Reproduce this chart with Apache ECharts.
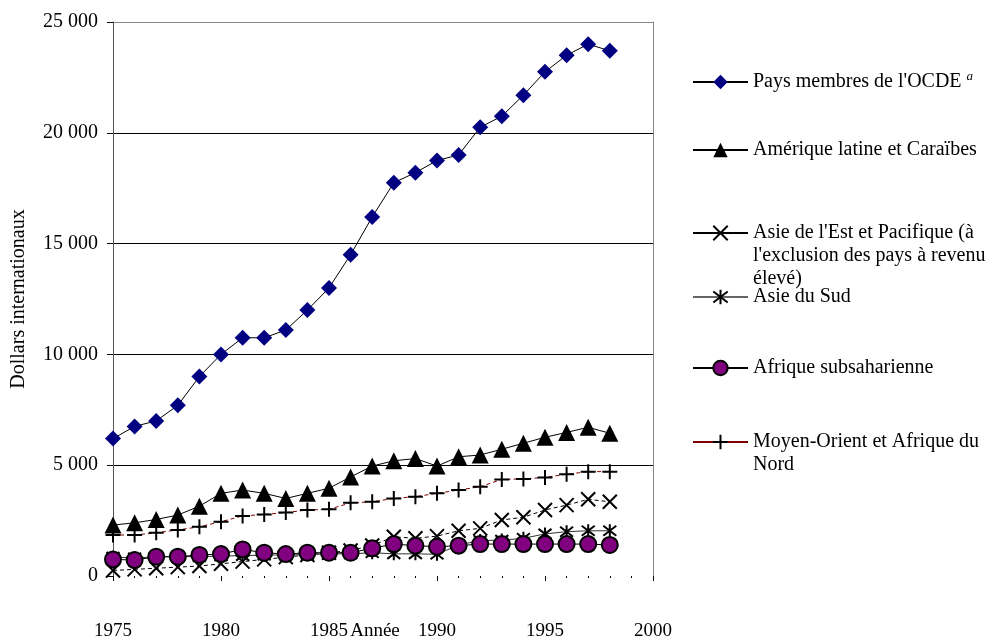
<!DOCTYPE html>
<html>
<head>
<meta charset="utf-8">
<script src="https://cdn.jsdelivr.net/npm/echarts@6/dist/echarts.min.js"></script>
<style>
html,body{margin:0;padding:0;background:#fff;}
#chart{width:1000px;height:641px;}
</style>
</head>
<body>
<div id="chart"></div>
<script>
var years = [1975,1976,1977,1978,1979,1980,1981,1982,1983,1984,1985,1986,1987,1988,1989,1990,1991,1992,1993,1994,1995,1996,1997,1998];
var oecd = [6200,6750,7000,7700,9000,10000,10750,10750,11100,12000,13000,14500,16200,17750,18200,18750,19000,20250,20750,21700,22750,23500,24000,23700];
var latinAmerica = [2300,2400,2550,2750,3150,3730,3880,3730,3500,3730,3960,4470,4960,5200,5300,4960,5380,5460,5720,5990,6260,6480,6710,6440];
var eastAsia = [250,300,350,400,450,550,650,750,850,950,1050,1150,1380,1770,1700,1800,2040,2150,2530,2650,2980,3200,3460,3350];
var southAsia = [850,820,860,880,870,900,920,940,950,970,1000,1000,1050,1000,1000,980,1400,1600,1620,1700,1900,2000,2040,2040];
var subSaharan = [750,720,870,870,950,990,1200,1050,990,1050,1050,1050,1250,1440,1370,1320,1370,1440,1440,1440,1440,1440,1440,1400];
var mena = [1850,1850,1950,2080,2220,2450,2710,2780,2860,2980,3010,3300,3350,3500,3580,3730,3880,4030,4360,4380,4450,4590,4710,4710];
var yTicks = [0,5000,10000,15000,20000,25000];
var xTicks = [1975,1980,1985,1990,1995,2000];

var names = {
  oecd: "Pays membres de l'OCDE",
  latin: "Amérique latine et Caraïbes",
  east: "Asie de l'Est et Pacifique (à l'exclusion des pays à revenu élevé)",
  south: "Asie du Sud",
  africa: "Afrique subsaharienne",
  mena: "Moyen-Orient et Afrique du Nord"
};
var legendText = {};
legendText[names.oecd] = "Pays membres de l'OCDE {sup|a}";
legendText[names.latin] = "Amérique latine et Caraïbes";
legendText[names.east] = "\n\nAsie de l'Est et Pacifique (à\nl'exclusion des pays à revenu\nélevé)";
legendText[names.south] = "Asie du Sud";
legendText[names.africa] = "Afrique subsaharienne";
legendText[names.mena] = "\nMoyen-Orient et Afrique du\nNord";

function pairs(arr){ return years.map(function(y,i){ return [y, arr[i]]; }); }

var FONT = 'Liberation Serif';
var crossPath = 'path://M0,0L10,10M10,0L0,10';
var starPath = 'path://M0,0L10,10M10,0L0,10M5,-1.5L5,11.5';
var plusPath = 'path://M5,0L5,10M0,5L10,5';

function legendFor(name, top, extra){
  var l = {
    data: [name],
    left: 692,
    top: top,
    padding: 0,
    itemWidth: 55,
    itemHeight: 18,
    itemGap: 5,
    selectedMode: false,
    formatter: function(n){ return legendText[n]; },
    textStyle: {
      fontFamily: FONT, fontSize: 20, color: '#000', lineHeight: 23,
      rich: { sup: { fontFamily: FONT, fontStyle: 'italic', fontSize: 13, lineHeight: 23, verticalAlign: 'top', padding: [0,0,10,0], color:'#000' } }
    }
  };
  if (extra) { for (var k in extra) l[k] = extra[k]; }
  return l;
}

var chart = echarts.init(document.getElementById('chart'), null, {renderer: 'canvas'});
chart.setOption({
  animation: false,
  backgroundColor: '#fff',
  grid: { left: 113, right: 347, top: 22, bottom: 65, containLabel: false, outerBoundsMode: 'none' },
  legend: [
    legendFor(names.oecd, 70.5),
    legendFor(names.latin, 138.5),
    legendFor(names.east, 175.5, { lineStyle: { type: 'solid', color: '#000' } }),
    legendFor(names.south, 285.5, { lineStyle: { type: 'solid', color: '#666' } }),
    legendFor(names.africa, 356.5),
    legendFor(names.mena, 407.5, { lineStyle: { type: 'solid', color: '#800000' } })
  ],
  xAxis: {
    type: 'value', min: xTicks[0], max: xTicks[xTicks.length-1], interval: 5,
    axisLine: { show: false },
    axisTick: { show: true, length: 5, lineStyle: { color: '#000' } },
    minorTick: { show: true, splitNumber: 5, length: 2, lineStyle: { color: '#000' } },
    splitLine: { show: false },
    axisLabel: { margin: 46, fontFamily: FONT, fontSize: 19, color: '#000',
      formatter: function(v){ return String(v); } },
    name: 'Année', nameLocation: 'middle', nameGap: 46, nameMoveOverlap: false,
    nameTextStyle: { fontFamily: FONT, fontSize: 19, color: '#000', padding: [0,16,0,0] }
  },
  yAxis: [{
    type: 'value', min: yTicks[0], max: yTicks[yTicks.length-1], interval: 5000,
    axisLine: { show: true, lineStyle: { color: '#555', width: 1 } },
    axisTick: { show: true, length: 6, lineStyle: { color: '#000' } },
    axisLabel: { margin: 15, fontFamily: FONT, fontSize: 20, color: '#000',
      formatter: function(v){ return String(v).replace(/\B(?=(\d{3})+(?!\d))/g, ' '); } },
    splitLine: { show: true, lineStyle: { color: ['#fff','#000','#000','#000','#000','#888'], width: 1 } },
    name: 'Dollars internationaux', nameLocation: 'middle', nameGap: 84, nameMoveOverlap: false,
    nameTextStyle: { fontFamily: FONT, fontSize: 20, color: '#000' }
  }, {
    type: 'value', position: 'right', min: yTicks[0], max: yTicks[yTicks.length-1], interval: 5000,
    axisLine: { show: true, lineStyle: { color: '#888', width: 1 } },
    axisTick: { show: false }, axisLabel: { show: false }, splitLine: { show: false }
  }],
  series: [
    { name: names.oecd, type: 'line', data: pairs(oecd), symbol: 'diamond', symbolSize: 16,
      lineStyle: { color: '#000', width: 1 }, itemStyle: { color: '#000080', borderColor: '#000080', borderWidth: 0 } },
    { name: names.latin, type: 'line', data: pairs(latinAmerica), symbol: 'triangle', symbolSize: 17,
      lineStyle: { color: '#000', width: 1 }, itemStyle: { color: '#000', borderWidth: 0 } },
    { name: names.east, type: 'line', data: pairs(eastAsia), symbol: crossPath, symbolSize: 14,
      lineStyle: { color: '#000', width: 1, type: [4,3] }, itemStyle: { color: '#000', borderColor: '#000', borderWidth: 2 } },
    { name: names.south, type: 'line', data: pairs(southAsia), symbol: starPath, symbolSize: 13,
      lineStyle: { color: '#333', width: 1 }, itemStyle: { color: '#000', borderColor: '#000', borderWidth: 2 } },
    { name: names.africa, type: 'line', data: pairs(subSaharan), symbol: 'circle', symbolSize: 16,
      lineStyle: { color: '#000', width: 1 }, itemStyle: { color: '#800080', borderColor: '#000', borderWidth: 2 } },
    { name: names.mena, type: 'line', data: pairs(mena), symbol: plusPath, symbolSize: 15,
      lineStyle: { color: '#800000', width: 1, type: [4,3] }, itemStyle: { color: '#000', borderColor: '#000', borderWidth: 2 } }
  ]
});
</script>
</body>
</html>
